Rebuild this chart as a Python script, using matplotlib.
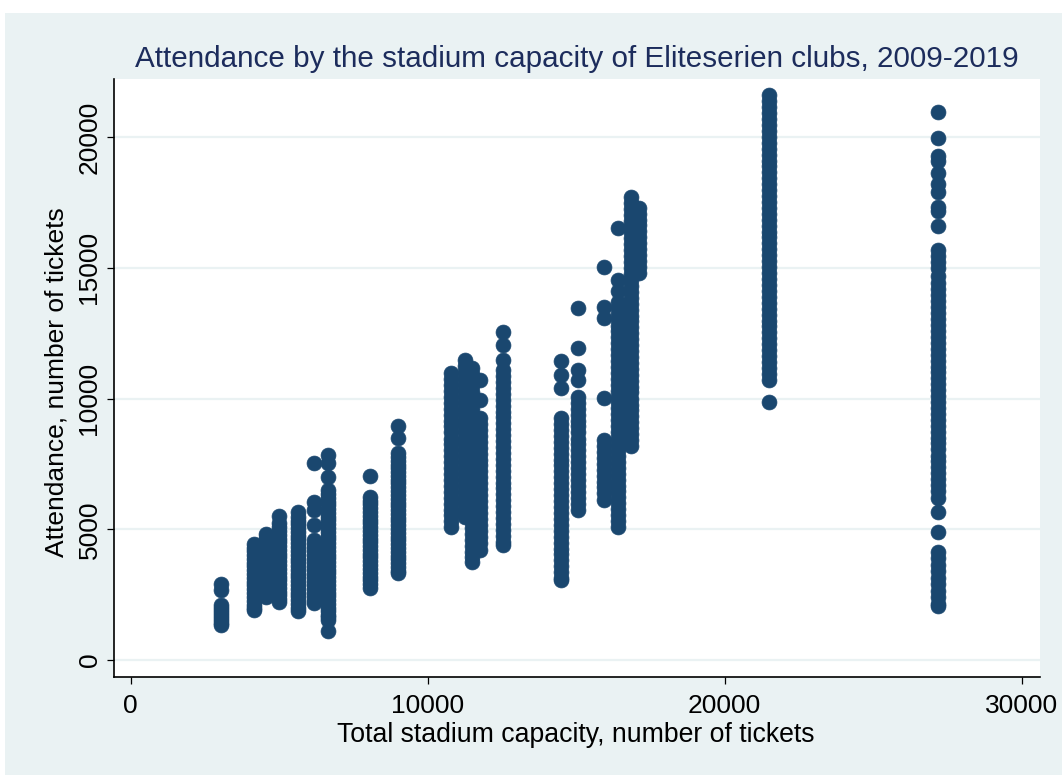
import matplotlib
matplotlib.use("Agg")
import matplotlib.pyplot as plt
from matplotlib.patches import Rectangle
import numpy as np

# Stadium capacity (tickets) for each club/stadium column
capacities = [3030, 4140, 4560, 4990, 5650, 6160, 6660, 8050, 8990,
              10800, 11270, 11500, 11770, 12550, 14480, 15050, 15930,
              16400, 16850, 17100, 21480, 27180]

# Home-match attendance recorded at each stadium, 2009-2019
att_3030 = [2920, 2690, 2110, 1990, 1870, 1760, 1650, 1540, 1430, 1350]
att_4140 = [4450, 4300, 4170, 4020, 3870, 3720, 3580, 3430, 3290, 3140, 2990,
            2850, 2700, 2560, 2410, 2270, 2120, 1980, 1900]
att_4560 = [4800, 4660, 4510, 4370, 4220, 4080, 3930, 3790, 3640, 3500, 3350,
            3210, 3060, 2920, 2770, 2630, 2480, 2410]
att_4990 = [5500, 5230, 5080, 4930, 4790, 4640, 4500, 4350, 4210, 4060, 3920,
            3770, 3630, 3480, 3340, 3190, 3050, 2900, 2760, 2610, 2470, 2320, 2200]
att_5650 = [5650, 5480, 5330, 5190, 5040, 4900, 4750, 4610, 4460, 4320, 4170,
            4030, 3880, 3740, 3590, 3450, 3300, 3160, 3010, 2870, 2720, 2580,
            2430, 2290, 2140, 2000, 1860]
att_6160 = [7530, 6060, 5740, 5160, 4590, 4440, 4300, 4150, 4010, 3860, 3720,
            3570, 3430, 3280, 3140, 2990, 2850, 2700, 2560, 2410, 2270, 2180]
att_6660 = [7840, 7530, 7000, 6500, 6350, 6210, 6060, 5920, 5770, 5630, 5480,
            5340, 5190, 5050, 4900, 4760, 4610, 4470, 4320, 4180, 4030, 3890,
            3740, 3600, 3450, 3310, 3160, 3020, 2870, 2730, 2580, 2440, 2290,
            2150, 2000, 1860, 1710, 1640, 1530, 1100]
att_8050 = [7040, 6240, 6090, 5950, 5800, 5660, 5510, 5370, 5220, 5080, 4930,
            4790, 4640, 4500, 4350, 4210, 4060, 3920, 3770, 3630, 3480, 3340,
            3190, 3050, 2900, 2760]
att_8990 = [8950, 8490, 7910, 7760, 7620, 7470, 7330, 7180, 7040, 6890, 6750,
            6600, 6460, 6310, 6170, 6020, 5880, 5730, 5590, 5440, 5300, 5150,
            5010, 4860, 4720, 4570, 4430, 4280, 4140, 3990, 3850, 3700, 3560,
            3410, 3330]
att_10800 = [10970, 10740, 10510, 10290, 10060, 9830, 9610, 9380, 9150, 8930,
             8700, 8470, 8250, 8020, 7790, 7570, 7340, 7110, 6890, 6660, 6430,
             6210, 5980, 5750, 5530, 5300, 5090]
att_11270 = [11470, 11240, 11010, 10790, 10560, 10330, 10110, 9880, 9650, 9430,
             9200, 8970, 8750, 8520, 8290, 8070, 7840, 7610, 7390, 7160, 6930,
             6710, 6480, 6250, 6030, 5800, 5570, 5470]
att_11500 = [11170, 10940, 10720, 10490, 10260, 10040, 9810, 9580, 9360, 9130,
             8900, 8680, 8450, 8220, 8000, 7770, 7540, 7320, 7090, 6860, 6640,
             6410, 6180, 5960, 5730, 5500, 5280, 5050, 4820, 4600, 4370, 4140,
             3920, 3750]
att_11770 = [10710, 9940, 9250, 9020, 8800, 8570, 8340, 8120, 7890, 7660, 7440,
             7210, 6980, 6760, 6530, 6300, 6080, 5850, 5620, 5400, 5170, 4940,
             4720, 4490, 4200]
att_12550 = [12540, 12050, 11470, 11090, 10860, 10640, 10410, 10180, 9960, 9730,
             9500, 9280, 9050, 8820, 8600, 8370, 8140, 7920, 7690, 7460, 7240,
             7010, 6780, 6560, 6330, 6100, 5880, 5650, 5420, 5200, 4970, 4740,
             4520, 4400]
att_14480 = [11450, 10900, 10400, 9250, 9020, 8800, 8570, 8340, 8120, 7890, 7660,
             7440, 7210, 6980, 6760, 6530, 6300, 6080, 5850, 5620, 5400, 5170,
             4940, 4720, 4490, 4260, 4040, 3810, 3580, 3360, 3130, 3060]
att_15050 = [13450, 11930, 11090, 10710, 10060, 9830, 9610, 9380, 9150, 8930,
             8700, 8470, 8250, 8020, 7790, 7570, 7340, 7110, 6890, 6660, 6430,
             6210, 5980, 5740]
att_15930 = [15030, 13500, 13080, 10020, 8410, 8180, 7960, 7730, 7500, 7280,
             7050, 6820, 6600, 6370, 6120]
att_16400 = [16520, 14530, 14100, 13700, 13470, 13250, 13020, 12790, 12570,
             12340, 12110, 11890, 11660, 11430, 11210, 10980, 10750, 10530,
             10300, 10070, 9850, 9620, 9390, 9170, 8940, 8710, 8490, 8260, 8030,
             7810, 7580, 7350, 7130, 6900, 6670, 6450, 6220, 5990, 5770, 5540,
             5310, 5090]
att_16850 = [17700, 17480, 17250, 17030, 16800, 16570, 16350, 16120, 15890,
             15670, 15440, 15210, 14990, 14760, 14530, 14310, 14080, 13850,
             13630, 13400, 13170, 12950, 12720, 12490, 12270, 12040, 11810,
             11590, 11360, 11130, 10910, 10680, 10450, 10230, 10000, 9770, 9550,
             9320, 9090, 8870, 8640, 8410, 8200]
att_17100 = [17300, 17070, 16840, 16620, 16390, 16160, 15940, 15710, 15480,
             15260, 15030, 14800]
att_21480 = [21600, 21370, 21140, 20920, 20690, 20460, 20240, 20010, 19780,
             19560, 19330, 19100, 18880, 18650, 18420, 18200, 17970, 17740,
             17520, 17290, 17060, 16840, 16610, 16380, 16160, 15930, 15700,
             15480, 15250, 15020, 14800, 14570, 14340, 14120, 13890, 13660,
             13440, 13210, 12980, 12760, 12530, 12300, 12080, 11850, 11620,
             11400, 11170, 10940, 10700, 9870]
att_27180 = [20960, 19980, 19270, 19080, 18620, 18220, 17900, 17320, 17170,
             16590, 15680, 15450, 15230, 15000, 14700, 14400, 14170, 13940,
             13720, 13490, 13260, 13040, 12810, 12580, 12360, 12130, 11900,
             11680, 11450, 11220, 11000, 10770, 10540, 10320, 10090, 9860, 9640,
             9410, 9180, 8960, 8730, 8500, 8280, 8050, 7820, 7600, 7370, 7140,
             6920, 6690, 6460, 6200, 5660, 4890, 4130, 3900, 3650, 3400, 3150,
             2900, 2650, 2400, 2150, 2050]

attendance = [att_3030, att_4140, att_4560, att_4990, att_5650, att_6160,
              att_6660, att_8050, att_8990, att_10800, att_11270, att_11500,
              att_11770, att_12550, att_14480, att_15050, att_15930, att_16400,
              att_16850, att_17100, att_21480, att_27180]

x_ticks = [0, 10000, 20000, 30000]
y_ticks = [0, 5000, 10000, 15000, 20000]

title_text = "Attendance by the stadium capacity of Eliteserien clubs, 2009-2019"
x_title = "Total stadium capacity, number of tickets"
y_title = "Attendance, number of tickets"

NAVY = "#1A476F"
BG = "#EAF2F3"

plt.rcParams["font.family"] = ["Liberation Sans", "DejaVu Sans"]

W, H = 1062, 776
fig = plt.figure(figsize=(W / 100, H / 100), dpi=100)
fig.patch.set_facecolor("white")
fig.patches.append(Rectangle((5 / W, 1 - 775 / H), (W - 5) / W, (775 - 13) / H,
                             transform=fig.transFigure, facecolor=BG,
                             edgecolor="none", zorder=-10))

ax = fig.add_axes([114 / W, 1 - 677 / H, (1040 - 114) / W, (677 - 79) / H])
ax.set_facecolor("white")

xs = np.concatenate([np.full(len(a), c) for c, a in zip(capacities, attendance)])
ys = np.concatenate([np.asarray(a, dtype=float) for a in attendance])
ax.scatter(xs, ys, s=115, color=NAVY, edgecolors=NAVY, linewidths=0.5,
           zorder=3)

ax.set_xlim(-562, 30616)
ax.set_ylim(-650, 22218)
ax.set_xticks(x_ticks)
ax.set_yticks(y_ticks)
ax.set_xticklabels([str(v) for v in x_ticks])
ax.set_yticklabels([str(v) for v in y_ticks], rotation=90, va="center")

ax.grid(axis="y", color=BG, linewidth=1.6, zorder=0)
ax.set_axisbelow(True)

for side in ("top", "right"):
    ax.spines[side].set_visible(False)
for side in ("left", "bottom"):
    ax.spines[side].set_color("black")
    ax.spines[side].set_linewidth(1.2)

ax.tick_params(axis="both", direction="out", length=5, width=0.9,
               colors="black", labelsize=19)
ax.tick_params(axis="x", pad=7)
ax.tick_params(axis="y", pad=4)

fig.text(576.5 / W, 1 - 67 / H, title_text, ha="center", va="baseline",
         fontsize=21.3, color="#1C2C5C")
fig.text(576 / W, 1 - 742 / H, x_title, ha="center", va="baseline",
         fontsize=19.2, color="black")
fig.text(57 / W, 1 - 382 / H, y_title, ha="center", va="center",
         rotation=90, fontsize=19, color="black")

fig.savefig("out.png", dpi=100, facecolor=fig.get_facecolor())
